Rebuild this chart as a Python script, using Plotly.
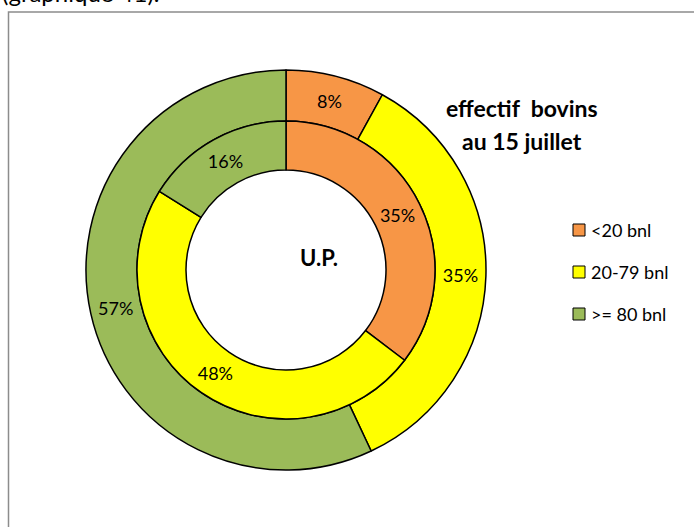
import plotly.graph_objects as go

# Herd size classes and shares (%)
categories = ["<20 bnl", "20-79 bnl", ">= 80 bnl"]
colors = ["#F79646", "#FFFF00", "#9BBB59"]
outer_values = [8, 35, 57]
inner_values = [35, 48, 16]

title_lines = ["effectif&nbsp; bovins", "au 15 juillet"]
center_label = "U.P."
caption = "(graphique 41)."

W, H = 694, 527
cx, cy = 286, 270          # ring centre in pixels (from top-left)
r_out, r_mid, r_in = 200, 149, 100


def px_domain(r):
    return dict(
        x=[(cx - r) / W, (cx + r) / W],
        y=[(H - cy - r) / H, (H - cy + r) / H],
    )


line = dict(color="black", width=1.5)
font_family = "Lato, Carlito, Calibri, sans-serif"

fig = go.Figure()
for vals, r_o, r_i in [(outer_values, r_out, r_mid), (inner_values, r_mid, r_in)]:
    fig.add_trace(go.Pie(
        labels=categories, values=vals, sort=False, direction="clockwise",
        rotation=0, hole=r_i / r_o, domain=px_domain(r_o),
        marker=dict(colors=colors, line=line),
        texttemplate="%{value}%", textposition="inside",
        insidetextorientation="horizontal",
        textfont=dict(family=font_family, size=18, color="black"),
        showlegend=False, hoverinfo="label+value",
    ))

shapes = []
annotations = []

# Chart frame (only top and left edges fall inside the page)
shapes.append(dict(type="rect", xref="paper", yref="paper",
                   x0=8.5 / W, x1=1.2, y0=-0.2, y1=1 - 12 / H,
                   line=dict(color="#8c8c8c", width=1.5), layer="below"))

# Legend built from the category list
leg_x, leg_y0, leg_dy, sq = 573, 230, 42, 12
for i, (lab, col) in enumerate(zip(categories, colors)):
    yc = leg_y0 + i * leg_dy
    shapes.append(dict(type="rect", xref="paper", yref="paper",
                       x0=leg_x / W, x1=(leg_x + sq) / W,
                       y0=1 - (yc + sq / 2) / H, y1=1 - (yc - sq / 2) / H,
                       fillcolor=col, line=dict(color="black", width=1)))
    annotations.append(dict(x=(leg_x + sq + 4) / W, y=1 - yc / H,
                            xref="paper", yref="paper", xanchor="left",
                            yanchor="middle", showarrow=False, text=lab,
                            font=dict(family=font_family, size=18, color="black")))

# Title lines
for i, t in enumerate(title_lines):
    annotations.append(dict(x=522 / W, y=1 - (108 + 33 * i) / H,
                            xref="paper", yref="paper", xanchor="center",
                            yanchor="middle", showarrow=False, text=f"<b>{t}</b>",
                            font=dict(family=font_family, size=23, color="black")))

# Centre label
annotations.append(dict(x=319 / W, y=1 - 257 / H, xref="paper", yref="paper",
                        xanchor="center", yanchor="middle", showarrow=False,
                        text=f"<b>{center_label}</b>",
                        font=dict(family=font_family, size=22, color="black")))

# Caption running off the top of the page
annotations.append(dict(x=0, y=1 - 2 / H, xref="paper", yref="paper",
                        xanchor="left", yanchor="bottom", showarrow=False,
                        text=caption, yshift=-7,
                        font=dict(family=font_family, size=24, color="black")))

fig.update_layout(
    width=W, height=H, margin=dict(l=0, r=0, t=0, b=0),
    paper_bgcolor="white", plot_bgcolor="white",
    shapes=shapes, annotations=annotations, showlegend=False,
)

fig.write_html("out.html")
